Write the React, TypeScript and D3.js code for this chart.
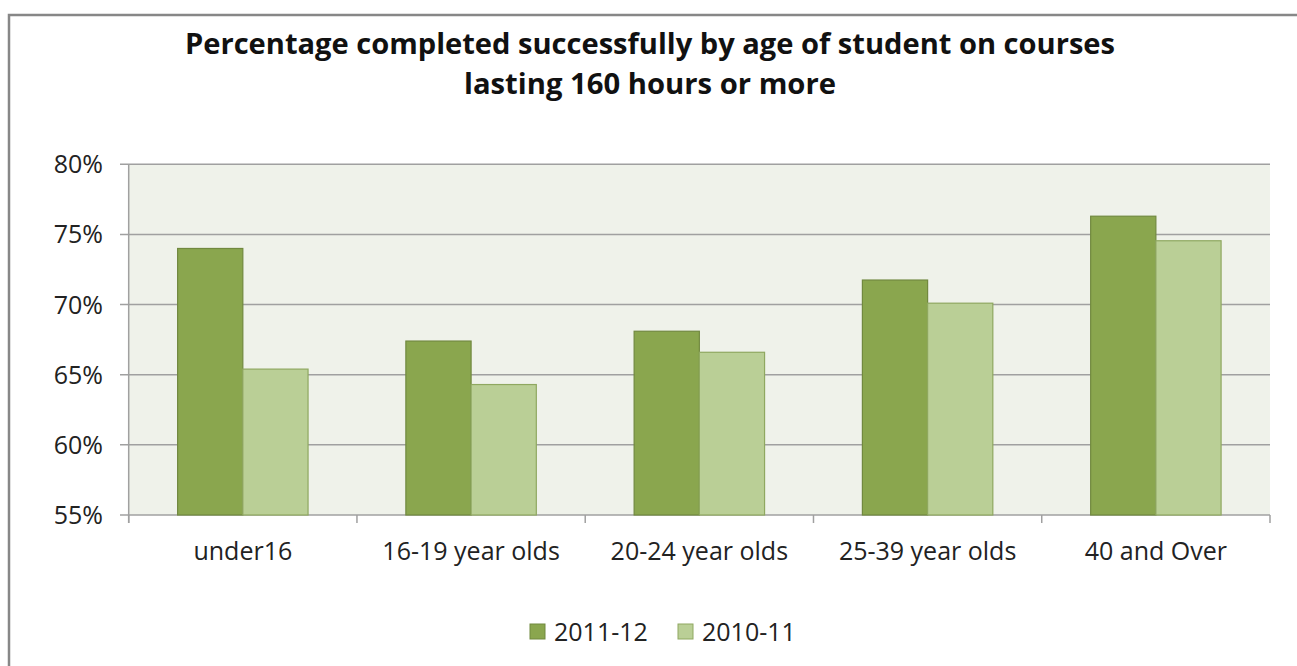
import React from "react";
import * as d3 from "d3";

const categories = ["under16", "16-19 year olds", "20-24 year olds", "25-39 year olds", "40 and Over"];
const seriesNames = ["2011-12", "2010-11"];
const values2011 = [74.0, 67.4, 68.1, 71.75, 76.3];
const values2010 = [65.4, 64.3, 66.6, 70.1, 74.55];
const yTicks = [55, 60, 65, 70, 75, 80];
const titleLines = [
  "Percentage completed successfully by age of student on courses",
  "lasting 160 hours or more",
];

const fills = ["#8aa64e", "#bacf96"];
const strokes = ["#71893f", "#8fa860"];

export default function App() {
  const width = 1297;
  const height = 666;
  const plot = { left: 128.7, right: 1270, top: 164.3, bottom: 515 };
  const font = "'Open Sans', 'Liberation Sans', sans-serif";

  // category scale, two bars per band (gap 150% of a bar)
  const x = d3.scaleBand().domain(categories).range([plot.left, plot.right]).paddingInner(0).paddingOuter(0);
  const barW = x.bandwidth() / 3.5;
  const y = d3.scaleLinear().domain([55, 80]).range([plot.bottom, plot.top]);

  const series = [values2011, values2010];
  const catTicks = d3.range(categories.length + 1).map((i) => plot.left + i * x.bandwidth());

  return (
    <svg
      width={width}
      height={height}
      style={{ position: "absolute", left: 0, top: 0, background: "#fff" }}
      fontFamily={font}
    >
      <rect x={9} y={15} width={1300} height={700} fill="#fff" stroke="#878787" strokeWidth={2.5} />
      {titleLines.map((t, i) => (
        <text
          key={i}
          x={650}
          y={54 + i * 40}
          textAnchor="middle"
          fontWeight="bold"
          fontSize={29}
          fill="#111"
          textLength={i === 0 ? 930 : 372}
          lengthAdjust="spacingAndGlyphs"
        >
          {t}
        </text>
      ))}
      <rect
        x={plot.left}
        y={plot.top}
        width={plot.right - plot.left}
        height={plot.bottom - plot.top}
        fill="#eff2ea"
      />
      {yTicks.map((t) => (
        <g key={t}>
          <line x1={120} x2={plot.right} y1={y(t)} y2={y(t)} stroke="#a0a0a0" strokeWidth={1.5} />
          <text x={103} y={y(t) + 9} textAnchor="end" fontSize={25} fill="#222">
            {t}%
          </text>
        </g>
      ))}
      <line x1={plot.left} x2={plot.left} y1={plot.top} y2={plot.bottom + 8} stroke="#a0a0a0" strokeWidth={1.5} />
      {catTicks.map((cx, i) => (
        <line key={i} x1={cx} x2={cx} y1={plot.bottom} y2={plot.bottom + 8} stroke="#a0a0a0" strokeWidth={1.5} />
      ))}
      {categories.map((c, ci) => {
        const center = (x(c) as number) + x.bandwidth() / 2;
        return (
          <g key={c}>
            {series.map((vals, si) => (
              <rect
                key={si}
                x={center - barW + si * barW}
                y={y(vals[ci])}
                width={barW}
                height={plot.bottom - y(vals[ci])}
                fill={fills[si]}
                stroke={strokes[si]}
                strokeWidth={1.2}
              />
            ))}
            <text x={center} y={560} textAnchor="middle" fontSize={25} fill="#222">
              {c}
            </text>
          </g>
        );
      })}
      {seriesNames.map((s, i) => {
        const lx = 530 + i * 148;
        return (
          <g key={s}>
            <rect x={lx} y={624} width={15} height={15} fill={fills[i]} stroke={strokes[i]} strokeWidth={1} />
            <text x={lx + 24} y={641} fontSize={25} fill="#222">
              {s}
            </text>
          </g>
        );
      })}
    </svg>
  );
}
